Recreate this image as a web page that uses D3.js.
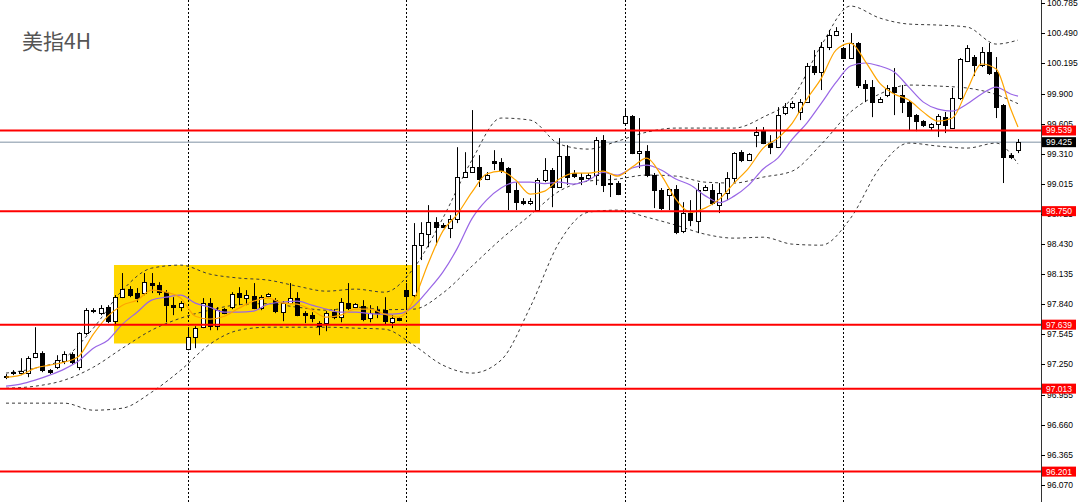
<!DOCTYPE html>
<html><head><meta charset="utf-8">
<script src="https://cdn.jsdelivr.net/npm/d3@7"></script>
<style>html,body{margin:0;padding:0;background:#fff;overflow:hidden}svg{display:block}</style>
</head><body>
<svg id="c" width="1080" height="502"></svg>
<script>
// ---- data (US Dollar Index, 4H) ----
const openP=[97.125,97.165,97.165,97.165,97.320,97.360,97.194,97.223,97.282,97.350,97.223,97.556,97.771,97.752,97.810,97.673,97.908,97.987,97.948,97.948,98.046,98.026,97.957,97.830,97.810,97.399,97.516,97.614,97.850,97.624,97.791,97.810,97.948,97.899,97.918,97.801,97.918,97.879,97.761,97.850,97.899,97.752,97.732,97.654,97.654,97.761,97.712,97.850,97.810,97.820,97.703,97.781,97.781,97.663,97.703,97.977,97.928,98.417,98.525,98.642,98.613,98.584,98.672,99.083,99.132,99.181,99.064,99.240,99.230,99.172,98.956,98.848,98.829,98.760,99.054,99.152,98.986,99.289,99.123,99.083,99.074,99.103,99.445,99.025,99.025,99.612,99.680,99.318,99.337,99.103,98.956,98.907,98.966,98.554,98.731,98.652,98.956,98.956,98.809,98.927,99.074,99.327,99.250,99.494,99.543,99.416,99.376,99.710,99.768,99.720,99.817,100.170,100.111,100.356,100.473,100.346,100.249,100.395,99.994,99.964,99.817,99.886,99.964,99.886,99.817,99.690,99.631,99.573,99.602,99.671,99.563,99.857,100.219,100.258,100.180,100.307,100.111,99.788,99.298,99.347];
const highP=[97.155,97.194,97.311,97.330,97.614,97.379,97.204,97.340,97.379,97.369,97.565,97.801,97.801,97.830,97.830,97.928,98.144,98.016,97.997,98.144,98.144,98.055,97.977,97.908,97.869,97.614,97.624,97.899,97.899,97.810,97.801,97.957,98.006,97.977,98.046,97.928,97.948,97.899,97.869,98.046,97.957,97.771,97.761,97.673,97.771,97.791,97.899,98.046,97.850,97.879,97.830,97.820,97.908,97.732,97.712,98.046,98.633,98.642,98.809,98.691,98.633,98.711,99.376,99.327,99.739,99.298,99.132,99.347,99.269,99.181,99.034,98.877,98.877,99.074,99.269,99.172,99.465,99.396,99.152,99.123,99.123,99.475,99.494,99.103,99.044,99.759,99.690,99.661,99.396,99.123,98.976,98.976,99.005,98.838,98.858,99.025,99.005,99.015,99.025,99.132,99.327,99.347,99.318,99.573,99.573,99.494,99.768,99.808,99.827,99.847,100.200,100.326,100.405,100.522,100.551,100.356,100.493,100.405,100.033,100.033,99.866,99.984,100.150,99.984,99.837,99.700,99.641,99.612,99.700,99.720,99.955,100.249,100.375,100.278,100.356,100.395,100.258,99.798,99.318,99.455];
const lowP=[97.106,97.145,97.145,97.125,97.311,97.174,97.155,97.204,97.253,97.253,97.194,97.536,97.752,97.732,97.654,97.634,97.899,97.908,97.859,97.928,97.948,97.928,97.663,97.732,97.771,97.389,97.409,97.605,97.585,97.585,97.742,97.791,97.830,97.830,97.791,97.781,97.908,97.752,97.673,97.840,97.722,97.654,97.663,97.536,97.575,97.693,97.663,97.781,97.801,97.673,97.663,97.703,97.644,97.605,97.673,97.801,97.908,98.271,98.397,98.417,98.584,98.486,98.633,99.074,99.123,98.986,99.054,99.152,99.123,98.760,98.760,98.809,98.809,98.750,99.034,98.789,98.976,99.005,99.074,99.005,99.054,99.005,98.937,98.888,98.907,99.602,99.308,99.171,99.083,98.780,98.760,98.760,98.525,98.535,98.603,98.535,98.946,98.809,98.731,98.858,99.025,99.230,99.240,99.376,99.406,99.308,99.367,99.690,99.749,99.641,99.808,100.082,99.935,100.326,100.463,100.239,100.239,99.955,99.817,99.670,99.808,99.866,99.690,99.710,99.543,99.533,99.573,99.543,99.475,99.514,99.563,99.837,100.209,100.072,100.160,100.082,99.661,99.025,99.259,99.318];
const closeP=[97.135,97.174,97.184,97.311,97.360,97.194,97.170,97.292,97.350,97.272,97.556,97.781,97.781,97.801,97.673,97.908,97.987,97.928,97.899,98.055,98.026,97.957,97.830,97.810,97.850,97.516,97.605,97.850,97.624,97.781,97.752,97.938,97.908,97.928,97.801,97.908,97.938,97.771,97.850,97.899,97.732,97.732,97.703,97.624,97.752,97.712,97.859,97.801,97.840,97.693,97.752,97.752,97.673,97.703,97.683,97.918,98.417,98.535,98.642,98.593,98.593,98.672,99.083,99.132,99.181,99.064,99.103,99.221,99.152,98.936,98.838,98.829,98.848,99.054,99.152,98.986,99.289,99.083,99.093,99.064,99.103,99.445,99.005,99.015,98.917,99.680,99.318,99.337,99.103,98.956,98.780,98.966,98.545,98.731,98.662,98.956,98.986,98.829,98.927,99.074,99.318,99.250,99.308,99.523,99.416,99.376,99.690,99.768,99.808,99.817,100.170,100.111,100.356,100.473,100.512,100.249,100.395,99.984,99.955,99.817,99.847,99.955,99.915,99.817,99.680,99.631,99.592,99.602,99.680,99.592,99.857,100.239,100.346,100.180,100.307,100.101,99.768,99.279,99.279,99.425];

const fastIdx=[0,2,4,6,8,10,12,14,16,18,20,22,24,26,28,30,32,34,36,38,40,42,44,46,48,50,52,54,56,58,60,62,64,66,68,70,72,74,76,78,80,82,84,86,88,90,92,94,96,98,100,102,104,106,108,110,112,114,116,118,120,122,124,126,128,130,132,134,136,138,139];
const ma5=[97.125,97.145,97.214,97.243,97.272,97.330,97.546,97.722,97.830,97.879,97.977,97.957,97.899,97.722,97.693,97.722,97.801,97.869,97.899,97.850,97.840,97.781,97.712,97.732,97.791,97.791,97.742,97.712,97.879,98.241,98.554,98.721,98.936,99.113,99.142,99.054,98.917,98.946,99.064,99.123,99.123,99.142,99.093,99.181,99.269,99.103,98.868,98.740,98.780,98.868,99.025,99.172,99.367,99.465,99.612,99.847,100.052,100.326,100.395,100.219,100.003,99.896,99.837,99.719,99.631,99.661,99.935,100.190,100.141,99.749,99.573];
const ma10=[97.037,97.057,97.096,97.145,97.204,97.286,97.409,97.487,97.644,97.761,97.879,97.908,97.928,97.850,97.810,97.761,97.761,97.771,97.840,97.859,97.869,97.830,97.791,97.761,97.761,97.747,97.742,97.747,97.820,97.977,98.153,98.388,98.677,98.858,98.976,99.034,99.034,99.020,99.034,99.015,99.054,99.128,99.103,99.172,99.201,99.152,99.064,99.005,98.902,98.834,98.897,99.005,99.162,99.269,99.455,99.612,99.808,100.009,100.170,100.200,100.170,100.111,99.964,99.817,99.749,99.729,99.798,99.896,99.964,99.896,99.876];

const bandIdx=[0,4,8,12,16,20,24,28,32,36,40,44,48,52,56,60,64,68,72,76,80,84,88,92,96,100,104,108,112,116,120,124,128,132,136,139];
const bbUpper=[97.165,97.214,97.311,97.605,97.977,98.192,98.222,98.134,98.095,98.075,98.016,97.967,97.987,97.957,98.192,98.681,99.250,99.661,99.641,99.406,99.357,99.435,99.523,99.563,99.563,99.563,99.670,99.857,100.375,100.757,100.640,100.581,100.571,100.552,100.385,100.424];
const bbMid=[97.017,97.037,97.096,97.223,97.409,97.585,97.703,97.781,97.835,97.845,97.810,97.781,97.810,97.786,97.791,97.948,98.212,98.476,98.711,98.946,99.044,99.064,99.103,99.093,99.034,99.025,99.083,99.142,99.406,99.720,99.896,99.984,99.974,99.955,99.891,99.802];
const bbLower=[96.871,96.871,96.871,96.802,96.822,96.978,97.194,97.448,97.585,97.614,97.614,97.614,97.605,97.595,97.438,97.243,97.165,97.292,97.810,98.446,98.740,98.760,98.691,98.613,98.525,98.486,98.495,98.427,98.417,98.681,99.172,99.416,99.387,99.367,99.416,99.211];

const levels=[99.539,98.750,97.639,97.013,96.201];
const bidPrice=99.425;
const tickLabels=["100.785","100.490","100.195","99.900","99.605","99.310","99.015","98.725","98.430","98.135","97.840","97.545","97.250","96.955","96.660","96.365","96.070"];
const separators=[25,55,85,115];
const boxBars=[14.83,56.86];
const boxPrices=[98.223,97.455];
const title="美指4H";

// ---- drawing ----
const W=1080,H=502,axisX=1041;
const svg=d3.select("#c");
const x=d3.scaleLinear().domain([0,139]).range([6,1018]);
const y=d3.scaleLinear().domain([96.070,100.785]).range([485,3.2]);

svg.append("rect").attr("width",W).attr("height",H).attr("fill","#fff");

// highlighted range box (background)
svg.append("rect")
  .attr("x",x(boxBars[0])).attr("y",y(boxPrices[0]))
  .attr("width",x(boxBars[1])-x(boxBars[0]))
  .attr("height",y(boxPrices[1])-y(boxPrices[0]))
  .attr("fill","#FFD700");

// period separators
svg.append("g").selectAll("line").data(separators).join("line")
  .attr("x1",d=>Math.round(x(d))+0.5).attr("x2",d=>Math.round(x(d))+0.5)
  .attr("y1",0).attr("y2",H)
  .attr("stroke","#000").attr("stroke-width",1).attr("stroke-dasharray","2,2");

// bid line
svg.append("line").attr("x1",0).attr("x2",axisX)
  .attr("y1",y(bidPrice)).attr("y2",y(bidPrice))
  .attr("stroke","#aab6c2").attr("stroke-width",1.5);

// bollinger bands
const mk=(idx)=>d3.line().x((d,k)=>x(idx[k])).y(d=>y(d)).curve(d3.curveMonotoneX);
[bbUpper,bbMid,bbLower].forEach(s=>{
  svg.append("path").attr("d",mk(bandIdx)(s)).attr("fill","none")
    .attr("stroke","#3a3a3a").attr("stroke-width",1).attr("stroke-dasharray","3,3");
});

// candles
const g=svg.append("g");
const idx=d3.range(openP.length);
g.selectAll("line.w").data(idx).join("line").attr("class","w")
  .attr("x1",i=>Math.round(x(i))+0.5).attr("x2",i=>Math.round(x(i))+0.5)
  .attr("y1",i=>y(highP[i])).attr("y2",i=>y(lowP[i]))
  .attr("stroke","#000").attr("stroke-width",1);
g.selectAll("rect.b").data(idx).join("rect").attr("class","b")
  .attr("x",i=>Math.round(x(i))-1.5)
  .attr("y",i=>Math.round(y(Math.max(openP[i],closeP[i])))+0.5)
  .attr("width",4)
  .attr("height",i=>Math.max(1,Math.round(Math.abs(y(openP[i])-y(closeP[i])))))
  .attr("fill",i=>closeP[i]>=openP[i]?"#fff":"#000")
  .attr("stroke","#000").attr("stroke-width",1);

// moving averages
svg.append("path").attr("d",mk(fastIdx)(ma10)).attr("fill","none")
  .attr("stroke","#9966e6").attr("stroke-width",1.2);
svg.append("path").attr("d",mk(fastIdx)(ma5)).attr("fill","none")
  .attr("stroke","#FFA500").attr("stroke-width",1.2);

// horizontal levels
svg.append("g").selectAll("line").data(levels).join("line")
  .attr("x1",0).attr("x2",axisX).attr("y1",d=>y(d)).attr("y2",d=>y(d))
  .attr("stroke","#ff0000").attr("stroke-width",2);

// right price axis
svg.append("rect").attr("x",axisX).attr("y",0).attr("width",W-axisX).attr("height",H).attr("fill","#fff");
svg.append("line").attr("x1",axisX+0.5).attr("x2",axisX+0.5).attr("y1",0).attr("y2",H)
  .attr("stroke","#333").attr("stroke-width",1);
const tk=svg.append("g");
tk.selectAll("line").data(tickLabels).join("line")
  .attr("x1",axisX).attr("x2",axisX+4)
  .attr("y1",d=>Math.round(y(+d))+0.5).attr("y2",d=>Math.round(y(+d))+0.5)
  .attr("stroke","#000");
tk.selectAll("text").data(tickLabels).join("text")
  .attr("x",axisX+6).attr("y",d=>y(+d)).attr("dy","0.35em")
  .attr("font-family","Liberation Sans, Arial, sans-serif").attr("font-size",8.5)
  .attr("fill","#000").text(d=>d);

// level tags
const tag=(v,fill)=>{
  const gg=svg.append("g");
  gg.append("rect").attr("x",axisX+1).attr("y",y(v)-5).attr("width",34).attr("height",10).attr("fill",fill);
  gg.append("text").attr("x",axisX+5).attr("y",y(v)).attr("dy","0.35em")
    .attr("font-family","Liberation Sans, Arial, sans-serif").attr("font-size",8.5)
    .attr("fill","#fff").text(v.toFixed(3));
};
levels.forEach(v=>tag(v,"#ff0000"));
tag(bidPrice,"#000");

// title
svg.append("text").attr("x",22).attr("y",49)
  .attr("font-family","Noto Sans CJK SC, sans-serif").attr("font-size",21)
  .attr("fill","#555").text(title);
</script>
</body></html>
